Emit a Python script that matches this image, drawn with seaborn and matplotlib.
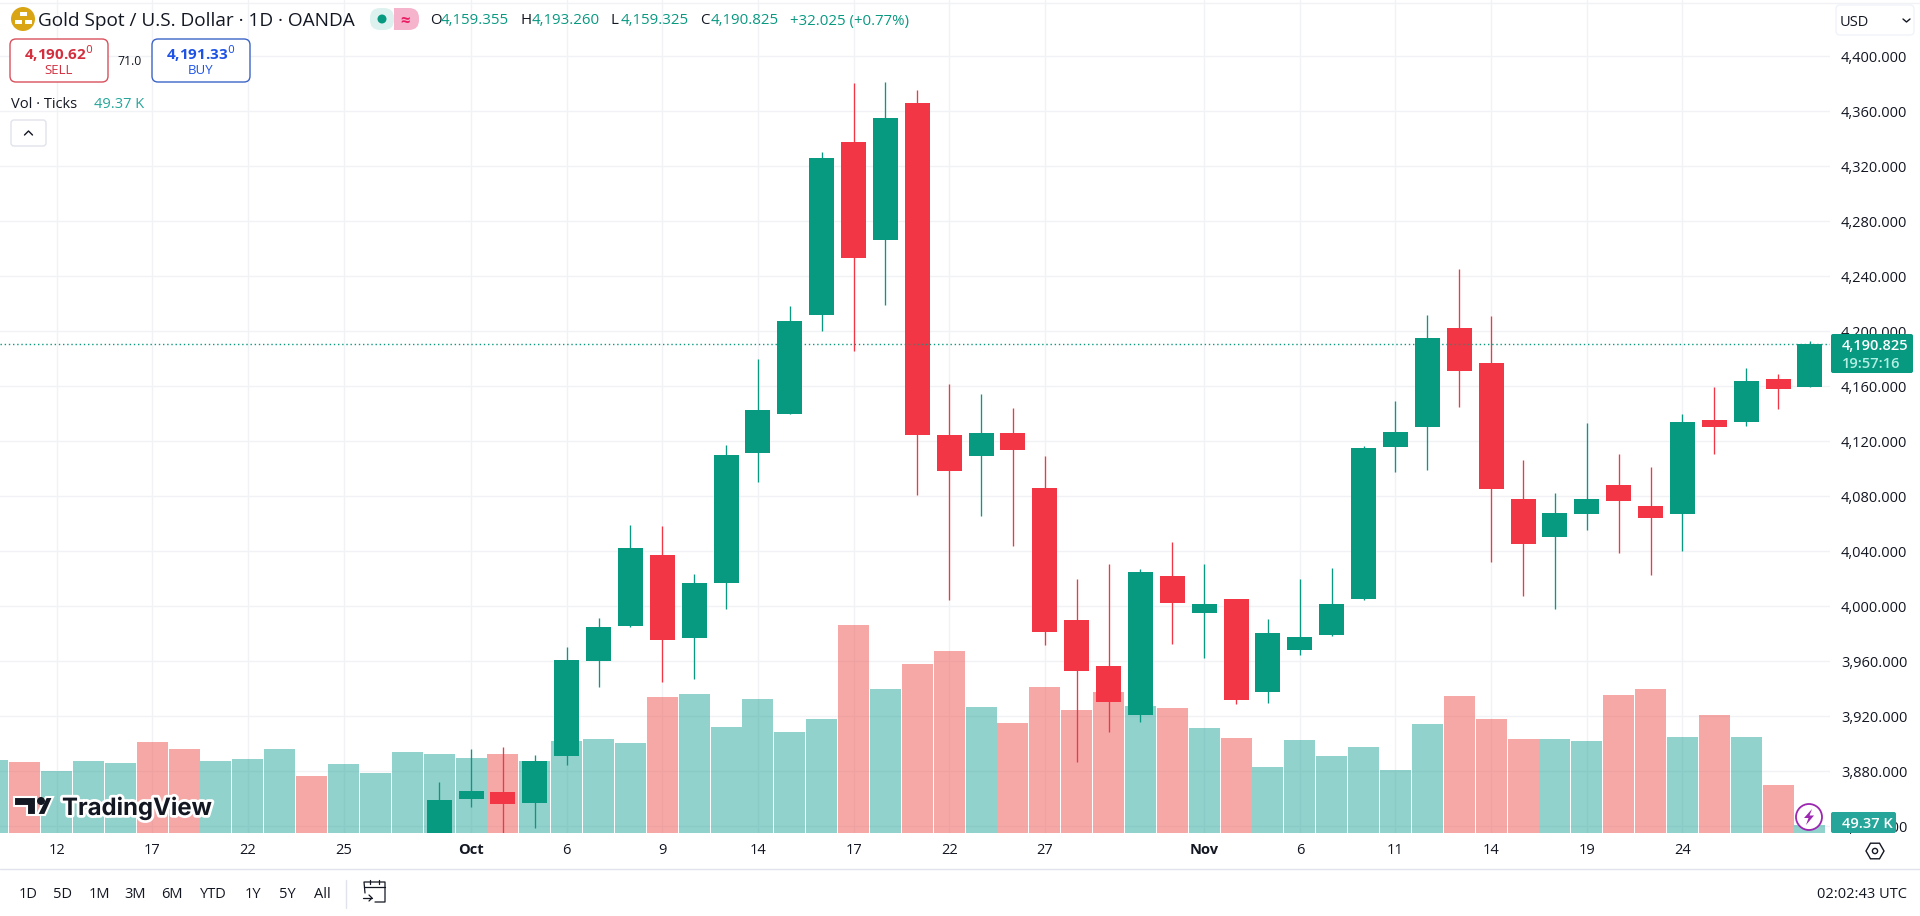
import matplotlib
matplotlib.use("Agg")
import matplotlib.pyplot as plt
import matplotlib.patheffects as pe
from matplotlib.lines import Line2D
from matplotlib.patches import Circle, FancyBboxPatch, Polygon, Rectangle
import numpy as np
import pandas as pd
import seaborn as sns

# === DATA ===
# volume in thousands of ticks, one bar per session, oldest first
volume = [450, 438, 383, 444, 432, 561, 518, 444, 457, 518, 352, 426, 370, 500,
          487, 463, 487, 444, 568, 580, 555, 839, 858, 654, 827, 623, 703, 1283,
          888, 1043, 1123, 777, 679, 901, 759, 870, 784, 771, 648, 586, 407, 574,
          475, 531, 389, 673, 845, 703, 580, 580, 568, 851, 888, 592, 728, 592,
          296, 49.37]
volume_dir = [
    "up", "down", "up", "up", "up", "down", "down", "up", "up", "up", "down", "up",
    "up", "up", "up", "up", "down", "up", "up", "up", "up", "down", "up", "up",
    "up", "up", "up", "down", "up", "down", "down", "up", "down", "down", "down",
    "down", "up", "down", "up", "down", "up", "up", "up", "up", "up", "up", "down",
    "down", "down", "up", "up", "down", "down", "up", "down", "up", "down", "up"]

# candles only exist on screen from this bar onwards
first_candle = 14
open_ = [3825.0, 3859.9, 3864.9, 3857.2, 3891.3, 3960.4, 3985.9, 4037.3, 3977.2, 4017.2,
         4111.7, 4140.1, 4212.1, 4337.7, 4266.6, 4366.0, 4124.6, 4109.5, 4126.0, 4086.0,
         3990.0, 3956.6, 3921.2, 4022.0, 3995.4, 4005.3, 3937.9, 3968.5, 3979.3, 4005.5,
         4116.1, 4130.6, 4202.4, 4177.0, 4078.0, 4050.6, 4067.4, 4088.2, 4072.9, 4067.4,
         4135.5, 4133.7, 4165.3, 4159.355]
high = [3872.5, 3896.2, 3897.7, 3891.9, 3970.4, 3991.5, 4059.1, 4058.4, 4023.5, 4117.3,
        4179.9, 4218.4, 4330.4, 4380.4, 4381.3, 4375.5, 4161.7, 4154.4, 4144.2, 4109.3,
        4019.9, 4030.8, 4027.1, 4046.8, 4030.8, 4005.3, 3990.8, 4019.9, 4027.8, 4116.6,
        4149.3, 4211.9, 4245.3, 4211.1, 4106.4, 4082.4, 4133.3, 4110.8, 4101.3, 4139.9,
        4159.5, 4173.3, 4169.0, 4193.26]
low = [3810.0, 3854.3, 3830.0, 3839.0, 3884.6, 3941.5, 3985.2, 3945.2, 3947.3, 3998.2,
       4090.4, 4140.1, 4200.5, 4185.9, 4219.1, 4080.9, 4004.6, 4065.9, 4044.1, 3971.9,
       3887.0, 3908.8, 3916.1, 3972.6, 3962.4, 3928.9, 3929.7, 3964.6, 3978.6, 4004.8,
       4097.9, 4099.1, 4145.2, 4032.4, 4007.7, 3998.2, 4055.7, 4039.0, 4023.0, 4040.4,
       4110.8, 4131.1, 4143.5, 4159.325]
close = [3859.1, 3865.7, 3856.4, 3887.3, 3960.9, 3984.9, 4042.4, 3975.7, 4016.9, 4110.0,
         4142.8, 4207.5, 4326.0, 4253.5, 4355.1, 4124.8, 4098.6, 4126.0, 4113.9, 3981.5,
         3953.2, 3930.6, 4024.9, 4002.6, 4001.7, 3932.1, 3980.6, 3977.7, 4001.7, 4115.1,
         4126.8, 4195.1, 4171.3, 4085.5, 4045.5, 4067.9, 4078.0, 4076.8, 4064.4, 4134.0,
         4130.4, 4163.9, 4158.0, 4190.825]

price_ticks = list(range(3840, 4401, 40))
date_pos = [2, 5, 8, 11, 15, 18, 21, 24, 27, 30, 33, 38, 41, 44, 47, 50, 53]
date_labels = ["12", "17", "22", "25", "Oct", "6", "9", "14", "17", "22", "27",
               "Nov", "6", "11", "14", "19", "24"]
ranges = ["1D", "5D", "1M", "3M", "6M", "YTD", "1Y", "5Y", "All"]

# === CONFIG ===
W, H = 1920, 916
PLOT_RIGHT, PLOT_BOTTOM = 1830, 833
BAR_STEP = 31.88
TEAL, RED = "#089981", "#F23645"
DARK = "#131722"
GRID = "#F1F2F5"
FONT = "Open Sans"

sns.set_theme(style="white")
plt.rcParams["font.family"] = [FONT, "DejaVu Sans"]


def px(x, y):
    return x / W, 1 - y / H


def put(x, y, s, size=10.5, color=DARK, ha="left", weight="normal", **kw):
    return fig.text(*px(x, y), s, fontsize=size, color=color, ha=ha, va="center_baseline",
                    fontweight=weight, zorder=12, **kw)


def box(x0, y0, x1, y1, face="white", edge="none", lw=1.0, rad=4, zorder=10):
    # rounded rectangle in screen pixels
    p = FancyBboxPatch((x0, H - y1), x1 - x0, y1 - y0, boxstyle=f"round,pad=0,rounding_size={rad}",
                       fc=face, ec=edge, lw=lw, transform=None, zorder=zorder)
    fig.add_artist(p)
    return p


fig = plt.figure(figsize=(W / 100, H / 100), dpi=100, facecolor="white")
plot_rect = [0, 1 - PLOT_BOTTOM / H, PLOT_RIGHT / W, PLOT_BOTTOM / H]

# grid and scales at the bottom, volume over them, candles on top
ax = fig.add_axes(plot_rect, zorder=1)
ax_vol = ax.twinx()
ax_vol.set_zorder(2)
ax_candle = fig.add_axes(plot_rect, sharex=ax, sharey=ax, zorder=3)
ax_candle.patch.set_alpha(0)

# === Volume ===
bars = pd.DataFrame({"pos": np.arange(len(volume)), "volume": volume, "dir": volume_dir})
sns.barplot(data=bars, x="pos", y="volume", hue="dir", palette={"up": "#26A69A", "down": "#EF5350"},
            native_scale=True, dodge=False, width=31 / BAR_STEP, alpha=0.5, saturation=1,
            linewidth=0, errorbar=None, legend=False, ax=ax_vol)
ax_vol.set_ylim(0, 5140)
ax_vol.set_xlabel("")
ax_vol.set_ylabel("")
ax_vol.set_yticks([])

# === Candles ===
pos = first_candle + np.arange(len(close))
o, h, l, c = map(np.array, (open_, high, low, close))
colors = [TEAL if b >= a else RED for a, b in zip(o, c)]
ax_candle.vlines(pos, l, h, colors=colors, lw=0.95, zorder=3)
ax_candle.bar(pos, np.abs(c - o), bottom=np.minimum(o, c), width=25 / BAR_STEP, color=colors, lw=0, zorder=4)
ax_candle.axhline(close[-1], color=TEAL, ls=(0, (1, 2)), lw=1, zorder=5)
ax_candle.tick_params(left=False, bottom=False, labelleft=False, labelbottom=False)

# === Scales ===
ax.set_xlim(0.2246, 57.63)
ax.set_ylim(3835.1, 4440.95)
ax.set_xticks(date_pos)
ax.set_xticklabels(date_labels)
ax.tick_params(axis="x", length=0, pad=7.5, labelsize=10.5, labelcolor=DARK)
for lab in ax.get_xticklabels():
    if lab.get_text() in ("Oct", "Nov"):
        lab.set_fontweight("bold")
ax.yaxis.tick_right()
ax.set_yticks(price_ticks)
ax.set_yticklabels([f"{t:,.3f}" for t in price_ticks])
ax.tick_params(axis="y", length=0, pad=8, labelsize=10.5, labelcolor=DARK)
ax.grid(color=GRID, lw=1)
for a in (ax, ax_vol, ax_candle):
    sns.despine(ax=a, left=True, right=True, top=True, bottom=True)

# === Frame lines ===
fig.add_artist(Line2D([0, 1], [1 - 3 / H] * 2, color=GRID, lw=1))
fig.add_artist(Line2D([0, 1], [1 - 869 / H] * 2, color="#E0E3EB", lw=1))
fig.add_artist(Line2D([346 / W] * 2, [1 - 880 / H, 1 - 908 / H], color="#E0E3EB", lw=1))

# === Header ===
fig.add_artist(Circle((23, H - 19), 12, fc="#D9A514", ec="none", transform=None, zorder=10))
for cx, cy in ((23, 14), (18, 22), (28, 22)):
    fig.add_artist(Rectangle((cx - 3.5, H - cy - 2), 7, 4, fc="white", ec="none", transform=None, zorder=11))
put(38, 19, "Gold Spot / U.S. Dollar · 1D · OANDA", size=13.7)
box(370, 8, 394, 30, face="#DDF2EE", rad=10)
box(394, 8, 419, 30, face="#F6B4CC", rad=10)
fig.add_artist(Rectangle((394, H - 30), 10, 22, fc="#F6B4CC", ec="none", transform=None, zorder=10.5))
fig.add_artist(Circle((382, H - 19), 4.5, fc=TEAL, ec="none", transform=None, zorder=11))
put(405, 19, "≈", size=12, color="#E91E63", ha="center", weight="bold")
for x_lab, lab, x_val, val in ((430, "O", 441, open_[-1]), (520, "H", 532, high[-1]),
                               (611, "L", 621, low[-1]), (700, "C", 711, close[-1])):
    put(x_lab, 19, lab, size=10.8)
    put(x_val, 19, f"{val:,.3f}", size=10.8, color=TEAL)
put(790, 19, "+32.025 (+0.77%)", size=10.8, color=TEAL)

box(10, 39, 108, 82, edge="#D9505C", lw=1, rad=6)
box(152, 39, 250, 82, edge="#3D64C8", lw=1, rad=6)
put(59, 52, "4,190.62$^{0}$", size=11, color="#D32F3F", ha="center", weight="bold")
put(59, 69, "SELL", size=9.5, color="#D32F3F", ha="center")
put(201, 52, "4,191.33$^{0}$", size=11, color="#1E53E5", ha="center", weight="bold")
put(201, 69, "BUY", size=9.5, color="#1E53E5", ha="center")
put(130, 60, "71.0", size=8.8, ha="center")
put(11, 102, "Vol · Ticks", size=10.5)
put(94, 102, f"{volume[-1]:.2f} K", size=10.5, color="#26A69A")
box(11, 120, 46, 146, edge="#E0E3EB", lw=1, rad=3)
fig.add_artist(Line2D([24.5 / W, 28.5 / W, 32.5 / W], [1 - 135 / H, 1 - 131 / H, 1 - 135 / H],
                      color=DARK, lw=1, zorder=11))

# USD selector
box(1836, 5, 1914, 35, edge="#F0F3FA", lw=1, rad=4)
put(1840, 20, "USD", size=10.5)
fig.add_artist(Line2D([1903 / W, 1906.5 / W, 1910 / W], [1 - 19 / H, 1 - 22 / H, 1 - 19 / H],
                      color=DARK, lw=1, zorder=11))

# === Price and volume tags ===
box(1831, 334, 1913, 373, face=TEAL, rad=2)
put(1842, 344, f"{close[-1]:,.3f}", size=10.5, color="white", weight="semibold")
put(1842, 362, "19:57:16", size=10.5, color="#B2F0E4", weight="semibold")
box(1831, 812, 1896, 833, face="#26A69A", rad=2)
put(1842, 822, f"{volume[-1]:.2f} K", size=10.5, color="white", weight="semibold")

# lightning badge
fig.add_artist(Circle((1809, H - 817), 13, fc="white", ec="#9C27B0", lw=1.3, transform=None, zorder=11))
fig.add_artist(Polygon([(1812, H - 809), (1804, H - 818), (1808.5, H - 818), (1806, H - 825),
                        (1814, H - 815.5), (1809.5, H - 815.5)], closed=True, fc="#9C27B0", ec="none",
                       transform=None, zorder=12))

# gear hexagon
ang = np.deg2rad(np.arange(0, 360, 60))
fig.add_artist(Polygon(np.c_[1875 + 9 * np.cos(ang), H - 851 + 9 * np.sin(ang)], closed=True, fc="white",
                       ec=DARK, lw=1, transform=None, zorder=11))
fig.add_artist(Circle((1875, H - 851), 2.6, fc="white", ec=DARK, lw=1, transform=None, zorder=12))

# === Logo ===
halo = [pe.withStroke(linewidth=4, foreground="white")]
for shape in ([(14, 797), (36, 797), (36, 815), (27, 815), (27, 806), (14, 806)],
              [(46, 797), (53, 797), (45, 815), (37, 815)]):
    fig.add_artist(Polygon([(x, H - y) for x, y in shape], closed=True, fc=DARK, ec="white", lw=1.5,
                           transform=None, zorder=11))
fig.add_artist(Circle((41, H - 801), 4, fc=DARK, ec="none", transform=None, zorder=11))
put(62, 806, "TradingView", size=17.2, weight="bold", family="Inter", path_effects=halo)

# === Bottom toolbar ===
for x_range, lab in zip((28, 63, 99, 135, 172, 213, 253, 287, 322), ranges):
    put(x_range, 893, lab, size=10.5, ha="center")
put(1907, 893, "02:02:43 UTC", size=10.5, ha="right")

# calendar icon
cal = [([365, 364, 385, 385, 375], [893, 882, 882, 902, 902]),
       ([364, 385], [887, 887]), ([370, 370], [880, 884]), ([379, 379], [880, 884]),
       ([363, 372], [898, 898]), ([369, 372, 369], [895, 898, 901])]
for xs, ys in cal:
    fig.add_artist(Line2D(np.array(xs) / W, 1 - np.array(ys) / H, color=DARK, lw=0.9, zorder=11))

fig.savefig("out.png", dpi=100, facecolor="white")
